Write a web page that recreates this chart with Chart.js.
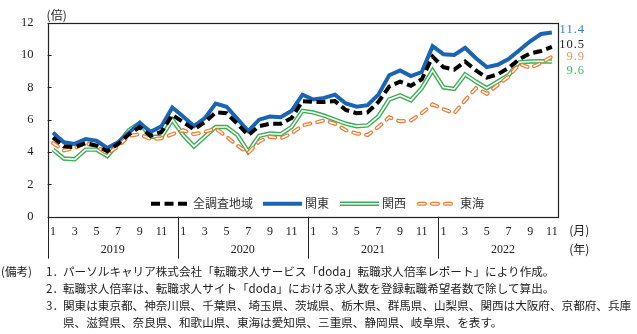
<!DOCTYPE html>
<html>
<head>
<meta charset="utf-8">
<script src="https://cdn.jsdelivr.net/npm/chart.js@4/dist/chart.umd.min.js"></script>
<style>
  html, body { margin: 0; padding: 0; background: #fff; }
  #wrap { position: relative; width: 637px; height: 334px; overflow: hidden; }
  #c { position: absolute; left: 0; top: 0; }
  .note { position: absolute; font-family: "Noto Sans CJK JP", sans-serif; font-size: 11.6px;
          line-height: 17px; white-space: nowrap; color: #222; }
</style>
</head>
<body>
<div id="wrap">
  <canvas id="c" width="637" height="334"></canvas>
  <div class="note" style="left:1px;top:263px">(備考)</div>
  <div class="note" style="left:46px;top:263px">1．</div>
  <div class="note" style="left:63px;top:263px">パーソルキャリア株式会社「転職求人サービス「doda」転職求人倍率レポート」により作成。</div>
  <div class="note" style="left:46px;top:280px">2．</div>
  <div class="note" style="left:63px;top:280px">転職求人倍率は、転職求人サイト「doda」における求人数を登録転職希望者数で除して算出。</div>
  <div class="note" style="left:46px;top:297px">3．</div>
  <div class="note" style="left:63px;top:297px">関東は東京都、神奈川県、千葉県、埼玉県、茨城県、栃木県、群馬県、山梨県、関西は大阪府、京都府、兵庫</div>
  <div class="note" style="left:63px;top:314px">県、滋賀県、奈良県、和歌山県、東海は愛知県、三重県、静岡県、岐阜県、を表す。</div>
</div>
<script>
// Years shown on the axis and how many months of each are plotted
const years = ['2019', '2020', '2021', '2022'];
const monthsPerYear = [12, 12, 12, 11];

// Job-offer ratio (倍) by month, Jan 2019 – Nov 2022
const allRegions = [
  4.9, 4.35, 4.3, 4.55, 4.4, 4.05, 4.5, 5.1, 5.55, 5.0, 5.25, 6.3,
  5.85, 5.4, 5.85, 6.45, 6.4, 5.75, 5.05, 5.6, 5.75, 5.75, 6.1, 7.15,
  7.1, 7.1, 7.15, 6.6, 6.4, 6.45, 7.1, 8.05, 8.35, 8.1, 8.5, 9.9,
  9.25, 9.1, 9.6, 9.05, 8.6, 8.8, 9.2, 9.75, 10.1, 10.25, 10.5
];
const kanto = [
  5.2, 4.6, 4.5, 4.8, 4.7, 4.25, 4.6, 5.2, 5.8, 5.25, 5.6, 6.75,
  6.2, 5.6, 6.1, 7.0, 6.8, 6.05, 5.3, 6.0, 6.2, 6.15, 6.55, 7.55,
  7.25, 7.35, 7.55, 7.0, 6.8, 6.9, 7.55, 8.75, 9.05, 8.7, 8.95, 10.55,
  10.05, 10.0, 10.45, 9.8, 9.25, 9.4, 9.75, 10.3, 10.85, 11.3, 11.4
];
const kansai = [
  4.15, 3.6, 3.55, 4.15, 4.15, 3.75, 4.5, 5.35, 5.8, 4.95, 4.95, 6.0,
  5.05, 4.35, 4.95, 5.55, 5.55, 5.05, 4.02, 5.0, 5.15, 5.1, 5.55, 6.55,
  6.45, 6.25, 6.0, 5.75, 5.6, 5.65, 6.2, 7.25, 7.5, 7.2, 7.95, 9.05,
  8.0, 7.9, 8.8, 8.35, 7.95, 8.35, 8.75, 9.55, 9.6, 9.62, 9.6
];
const tokai = [
  4.55, 4.1, 4.25, 4.55, 4.35, 3.9, 4.35, 5.0, 5.1, 4.8, 4.85, 5.1,
  5.35, 5.1, 5.25, 5.45, 4.95, 4.4, 3.95, 4.65, 4.95, 4.85, 5.15, 5.65,
  5.8, 5.95, 5.75, 5.35, 5.15, 5.05, 5.55, 6.15, 5.9, 5.95, 6.4, 6.95,
  6.65, 6.4, 7.2, 7.95, 7.6, 8.15, 8.65, 9.45, 9.2, 9.5, 9.9
];
const yTicks = [0, 2, 4, 6, 8, 10, 12];
const seriesNames = ['全調査地域', '関東', '関西', '東海'];

// Category labels "YYYY-M"
const categories = [];
years.forEach((y, yi) => {
  for (let m = 1; m <= monthsPerYear[yi]; m++) categories.push(y + '-' + m);
});
const monthOf = i => Number(categories[i].split('-')[1]);

const SERIF = '"Liberation Serif", "Noto Sans CJK JP", serif';
const JP = '"Noto Sans CJK JP", "Liberation Serif", serif';
const C_BLACK = '#000000', C_BLUE = '#1a64b4', C_GREEN = '#3aae55', C_ORANGE = '#ed7d31';

// Line style definitions, shared by the plot lines and the legend samples
const styles = {
  black:  [{ color: C_BLACK, width: 4, dash: [9, 4.5], cap: 'butt' }],
  blue:   [{ color: C_BLUE, width: 4, dash: [], cap: 'butt' }],
  green:  [{ color: C_GREEN, width: 4.4, dash: [], cap: 'butt' }, { color: '#ffffff', width: 1.6, dash: [], cap: 'butt' }],
  orange: [{ color: C_ORANGE, width: 4, dash: [6, 7], cap: 'round' }, { color: '#ffffff', width: 1.5, dash: [6, 7], cap: 'round' }]
};

function ds(label, data, st, order) {
  return {
    label, data, order,
    borderColor: st.color, borderWidth: st.width, borderDash: st.dash, borderCapStyle: st.cap,
    borderJoinStyle: 'miter', pointRadius: 0, pointHoverRadius: 0, tension: 0, fill: false
  };
}

const datasets = [
  ds(seriesNames[0], allRegions, styles.black[0], 0),
  ds(seriesNames[3] + '_inner', tokai, styles.orange[1], 1),
  ds(seriesNames[3], tokai, styles.orange[0], 2),
  ds(seriesNames[1], kanto, styles.blue[0], 3),
  ds(seriesNames[2] + '_inner', kansai, styles.green[1], 4),
  ds(seriesNames[2], kansai, styles.green[0], 5)
];

function strokeSample(ctx, layers, x0, x1, y) {
  layers.forEach(l => {
    ctx.save();
    ctx.strokeStyle = l.color; ctx.lineWidth = l.width; ctx.setLineDash(l.dash); ctx.lineCap = l.cap;
    ctx.beginPath(); ctx.moveTo(x0, y); ctx.lineTo(x1, y); ctx.stroke();
    ctx.restore();
  });
}

const decorations = {
  id: 'decorations',
  afterDraw(chart) {
    const ctx = chart.ctx, a = chart.chartArea, xs = chart.scales.x, ys = chart.scales.y;
    const band = xs.getPixelForValue(1) - xs.getPixelForValue(0);
    ctx.save();
    // plot frame
    ctx.strokeStyle = '#222'; ctx.lineWidth = 1.2; ctx.setLineDash([]);
    ctx.strokeRect(Math.round(a.left) + 0.5, Math.round(a.top) + 0.5, Math.round(a.right - a.left), Math.round(a.bottom - a.top));
    // inner y tick marks
    ctx.lineWidth = 1;
    yTicks.forEach(v => {
      const y = Math.round(ys.getPixelForValue(v)) + 0.5;
      ctx.beginPath(); ctx.moveTo(a.left, y); ctx.lineTo(a.left + 4, y); ctx.stroke();
    });
    // year separators and year labels
    let start = 0;
    ctx.fillStyle = '#222'; ctx.font = '12px ' + SERIF; ctx.textAlign = 'center'; ctx.textBaseline = 'middle';
    years.forEach((yr, yi) => {
      const xb = Math.round(xs.getPixelForValue(start) - band / 2) + 0.5;
      ctx.beginPath(); ctx.moveTo(xb, a.bottom); ctx.lineTo(xb, a.bottom + 42); ctx.stroke();
      const end = start + monthsPerYear[yi] - 1;
      const cx = (xs.getPixelForValue(start) + xs.getPixelForValue(start + 11)) / 2;
      ctx.fillText(yr, cx, a.bottom + 33);
      start = end + 1;
    });
    // unit labels
    ctx.textAlign = 'left';
    ctx.font = '12px ' + JP;
    ctx.fillText('(月)', a.right + 12, a.bottom + 14);
    ctx.fillText('(年)', a.right + 12, a.bottom + 33);
    ctx.fillText('(倍)', a.left - 1, a.top - 7);
    // legend inside the plot area
    const ly = a.bottom - 13;
    const items = [
      { layers: styles.black, x0: 151, x1: 187, tx: 193, text: seriesNames[0] },
      { layers: styles.blue, x0: 263, x1: 302, tx: 305, text: seriesNames[1] },
      { layers: styles.green, x0: 340, x1: 379, tx: 382, text: seriesNames[2] },
      { layers: styles.orange, x0: 419, x1: 451, tx: 460, text: seriesNames[3] }
    ];
    items.forEach(it => {
      strokeSample(ctx, it.layers, it.x0, it.x1, ly);
      ctx.fillStyle = '#333'; ctx.font = '12px ' + JP; ctx.textAlign = 'left'; ctx.textBaseline = 'middle';
      ctx.fillText(it.text, it.tx, ly);
    });
    // latest values at the right end
    const last = arr => arr[arr.length - 1];
    const tags = [
      { v: last(kanto), color: '#2b7fd0', dy: -3 },
      { v: last(allRegions), color: '#222', dy: -2 },
      { v: last(tokai), color: '#f0935a', dy: 0 },
      { v: last(kansai), color: '#3fbf63', dy: 9.5 }
    ];
    ctx.font = '12.5px ' + SERIF; ctx.textAlign = 'right'; ctx.textBaseline = 'middle';
    if ('letterSpacing' in ctx) ctx.letterSpacing = '1px';
    tags.forEach(t => {
      ctx.fillStyle = t.color;
      ctx.fillText(t.v.toFixed(1), 585, ys.getPixelForValue(t.v) + t.dy);
    });
    ctx.restore();
  }
};

new Chart(document.getElementById('c'), {
  type: 'line',
  data: { labels: categories, datasets },
  options: {
    responsive: false, animation: false, devicePixelRatio: 1,
    layout: { padding: { left: 0, top: 22.7, right: 79.7, bottom: 0 } },
    plugins: { legend: { display: false }, tooltip: { enabled: false } },
    scales: {
      x: {
        type: 'category', offset: true,
        grid: { display: false, drawTicks: false }, border: { display: false },
        ticks: {
          autoSkip: false, maxRotation: 0, minRotation: 0, padding: 8, color: '#222',
          font: { family: SERIF, size: 12 },
          callback: (v, i) => (monthOf(i) % 2 === 1 ? String(monthOf(i)) : '')
        },
        afterFit: s => { s.height = 117.3; }
      },
      y: {
        min: 0, max: 12,
        grid: { display: false, drawTicks: false }, border: { display: false },
        ticks: { stepSize: 2, padding: 14, color: '#222', font: { family: SERIF, size: 12.5 } },
        afterFit: s => { s.width = 47.6; }
      }
    }
  },
  plugins: [decorations]
});
</script>
</body>
</html>
